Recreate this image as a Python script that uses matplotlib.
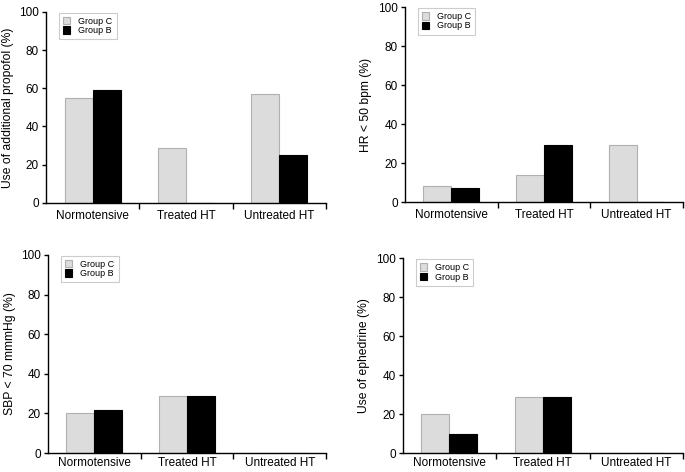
import matplotlib
matplotlib.use("Agg")
import matplotlib.pyplot as plt
import numpy as np

plt.rcParams['font.family'] = ['Liberation Sans', 'DejaVu Sans']

categories = ["Normotensive", "Treated HT", "Untreated HT"]
series_names = ["Group C", "Group B"]

propofol_c = [55, 29, 57]
propofol_b = [59, 0, 25]
hr_c = [8, 14, 29]
hr_b = [7, 29, 0]
sbp_c = [20, 29, 0]
sbp_b = [22, 29, 0]
ephedrine_c = [20, 29, 0]
ephedrine_b = [10, 29, 0]

ylabels = ["Use of additional propofol (%)", "HR < 50 bpm (%)",
           "SBP < 70 mmmHg (%)", "Use of ephedrine (%)"]
yticks = [0, 20, 40, 60, 80, 100]

panels = [
    (propofol_c, propofol_b, ylabels[0], [0.067, 0.570, 0.409, 0.405]),
    (hr_c, hr_b, ylabels[1], [0.591, 0.572, 0.406, 0.413]),
    (sbp_c, sbp_b, ylabels[2], [0.070, 0.040, 0.406, 0.420]),
    (ephedrine_c, ephedrine_b, ylabels[3], [0.588, 0.040, 0.409, 0.413]),
]

fig = plt.figure(figsize=(6.85, 4.72), dpi=100)
x = np.arange(len(categories))
w = 0.3
for i, (c_vals, b_vals, ylab, rect) in enumerate(panels):
    ax = fig.add_axes(rect)
    ax.bar(x - w / 2, c_vals, w, color="#dcdcdc", edgecolor="#b0b0b0",
           linewidth=0.8, label=series_names[0])
    ax.bar(x + w / 2, b_vals, w, color="black", edgecolor="black",
           linewidth=0.8, label=series_names[1])
    ax.set_xlim(-0.5, 2.5)
    ax.set_ylim(0, 100)
    ax.set_yticks(yticks)
    ax.set_xticks(x)
    ax.set_xticklabels(categories)
    ax.set_xticks([0.5, 1.5, 2.5], minor=True)
    ax.tick_params(axis='x', which='major', length=0, labelsize=8.5,
                   pad=5 if i < 2 else 2.5)
    ax.tick_params(axis='x', which='minor', length=4, width=1, direction='out')
    ax.tick_params(axis='y', length=3, width=1, labelsize=8.5, pad=2)
    ax.set_ylabel(ylab, fontsize=8.7, labelpad=4)
    for s in ['top', 'right']:
        ax.spines[s].set_visible(False)
    for s in ['left', 'bottom']:
        ax.spines[s].set_linewidth(1)
    leg = ax.legend(loc='upper left', bbox_to_anchor=(0.045, 1.0), fontsize=6.5,
                    fancybox=False, edgecolor="#cccccc", framealpha=1,
                    handlelength=0.75, handleheight=0.9, handletextpad=0.9,
                    borderpad=0.45, labelspacing=0.05, borderaxespad=0.1)
    leg.get_frame().set_linewidth(0.8)

fig.savefig("out.png", dpi=100)
